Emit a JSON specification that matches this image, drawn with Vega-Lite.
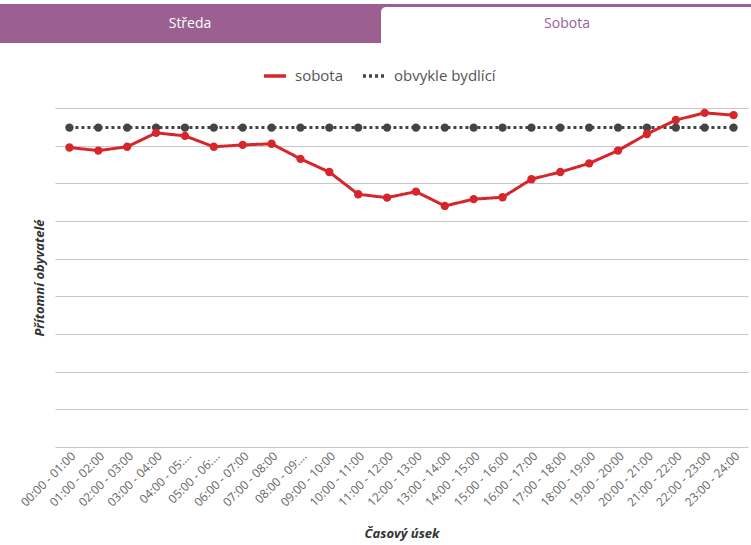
{
  "$schema": "https://vega.github.io/schema/vega-lite/v6.json",
  "padding": {"top": 4, "left": 0, "right": 0, "bottom": 0},
  "spacing": 20,
  "config": {
    "view": {"stroke": null},
    "font": "Open Sans"
  },
  "resolve": {
    "scale": {"color": "independent", "x": "independent", "y": "independent"},
    "legend": {"color": "independent", "strokeDash": "independent"}
  },
  "datasets": {
    "tabs": [{"tab": "Středa"}, {"tab": "Sobota"}],
    "pop": [
      {"slot": "00:00 - 01:00", "serie": "obvykle bydlící", "value": 8480},
      {"slot": "01:00 - 02:00", "serie": "obvykle bydlící", "value": 8480},
      {"slot": "02:00 - 03:00", "serie": "obvykle bydlící", "value": 8480},
      {"slot": "03:00 - 04:00", "serie": "obvykle bydlící", "value": 8480},
      {"slot": "04:00 - 05:00", "serie": "obvykle bydlící", "value": 8480},
      {"slot": "05:00 - 06:00", "serie": "obvykle bydlící", "value": 8480},
      {"slot": "06:00 - 07:00", "serie": "obvykle bydlící", "value": 8480},
      {"slot": "07:00 - 08:00", "serie": "obvykle bydlící", "value": 8480},
      {"slot": "08:00 - 09:00", "serie": "obvykle bydlící", "value": 8480},
      {"slot": "09:00 - 10:00", "serie": "obvykle bydlící", "value": 8480},
      {"slot": "10:00 - 11:00", "serie": "obvykle bydlící", "value": 8480},
      {"slot": "11:00 - 12:00", "serie": "obvykle bydlící", "value": 8480},
      {"slot": "12:00 - 13:00", "serie": "obvykle bydlící", "value": 8480},
      {"slot": "13:00 - 14:00", "serie": "obvykle bydlící", "value": 8480},
      {"slot": "14:00 - 15:00", "serie": "obvykle bydlící", "value": 8480},
      {"slot": "15:00 - 16:00", "serie": "obvykle bydlící", "value": 8480},
      {"slot": "16:00 - 17:00", "serie": "obvykle bydlící", "value": 8480},
      {"slot": "17:00 - 18:00", "serie": "obvykle bydlící", "value": 8480},
      {"slot": "18:00 - 19:00", "serie": "obvykle bydlící", "value": 8480},
      {"slot": "19:00 - 20:00", "serie": "obvykle bydlící", "value": 8480},
      {"slot": "20:00 - 21:00", "serie": "obvykle bydlící", "value": 8480},
      {"slot": "21:00 - 22:00", "serie": "obvykle bydlící", "value": 8480},
      {"slot": "22:00 - 23:00", "serie": "obvykle bydlící", "value": 8480},
      {"slot": "23:00 - 24:00", "serie": "obvykle bydlící", "value": 8480},
      {"slot": "00:00 - 01:00", "serie": "sobota", "value": 7950},
      {"slot": "01:00 - 02:00", "serie": "sobota", "value": 7870},
      {"slot": "02:00 - 03:00", "serie": "sobota", "value": 7970},
      {"slot": "03:00 - 04:00", "serie": "sobota", "value": 8340},
      {"slot": "04:00 - 05:00", "serie": "sobota", "value": 8260},
      {"slot": "05:00 - 06:00", "serie": "sobota", "value": 7970},
      {"slot": "06:00 - 07:00", "serie": "sobota", "value": 8020},
      {"slot": "07:00 - 08:00", "serie": "sobota", "value": 8050},
      {"slot": "08:00 - 09:00", "serie": "sobota", "value": 7650},
      {"slot": "09:00 - 10:00", "serie": "sobota", "value": 7300},
      {"slot": "10:00 - 11:00", "serie": "sobota", "value": 6710},
      {"slot": "11:00 - 12:00", "serie": "sobota", "value": 6620},
      {"slot": "12:00 - 13:00", "serie": "sobota", "value": 6780},
      {"slot": "13:00 - 14:00", "serie": "sobota", "value": 6400},
      {"slot": "14:00 - 15:00", "serie": "sobota", "value": 6580},
      {"slot": "15:00 - 16:00", "serie": "sobota", "value": 6630},
      {"slot": "16:00 - 17:00", "serie": "sobota", "value": 7110},
      {"slot": "17:00 - 18:00", "serie": "sobota", "value": 7300},
      {"slot": "18:00 - 19:00", "serie": "sobota", "value": 7530},
      {"slot": "19:00 - 20:00", "serie": "sobota", "value": 7870},
      {"slot": "20:00 - 21:00", "serie": "sobota", "value": 8310},
      {"slot": "21:00 - 22:00", "serie": "sobota", "value": 8680},
      {"slot": "22:00 - 23:00", "serie": "sobota", "value": 8870},
      {"slot": "23:00 - 24:00", "serie": "sobota", "value": 8810}
    ]
  },
  "vconcat": [
    {
      "width": 693,
      "height": 39,
      "data": {"name": "tabs"},
      "layer": [
        {
          "transform": [{"filter": "datum.tab === 'Středa'"}],
          "mark": {"type": "rect", "color": "#9b5f91"},
          "encoding": {
            "x": {"field": "tab", "type": "nominal", "axis": null,
                  "scale": {"domain": ["Středa"], "range": [-55, 696], "paddingInner": 0, "paddingOuter": 0}}
          }
        },
        {
          "transform": [{"filter": "datum.tab === 'Sobota'"}],
          "mark": {"type": "rect", "color": "#ffffff", "cornerRadiusTopLeft": 5},
          "encoding": {
            "x": {"field": "tab", "type": "nominal", "axis": null,
                  "scale": {"domain": ["Středa", "Sobota"], "range": [-44, 696], "paddingInner": 0, "paddingOuter": 0}},
            "y": {"datum": 36, "type": "quantitative", "axis": null, "scale": {"domain": [0, 39], "nice": false}},
            "y2": {"datum": 0}
          }
        },
        {
          "mark": {"type": "text", "fontSize": 14, "font": "Open Sans"},
          "encoding": {
            "x": {"field": "tab", "type": "nominal", "axis": null, "bandPosition": 0.5,
                  "scale": {"type": "band", "domain": ["Středa", "Sobota"], "range": [-53.5, 700.5], "paddingInner": 0, "paddingOuter": 0}},
            "text": {"field": "tab"},
            "color": {"field": "tab", "type": "nominal", "legend": null,
                      "scale": {"domain": ["Středa", "Sobota"], "range": ["#ffffff", "#9b5f91"]}}
          }
        }
      ],
      "resolve": {"scale": {"x": "independent", "y": "independent", "color": "independent"}}
    },
    {
      "width": 693,
      "height": 339,
      "data": {"name": "pop"},
      "encoding": {
        "x": {
          "field": "slot", "type": "ordinal", "sort": null, "title": "Časový úsek",
          "axis": {
            "labelAngle": -45, "labelFontSize": 12, "labelColor": "#666", "labelFont": "Open Sans",
            "ticks": false, "domain": false, "grid": false, "labelPadding": 3, "labelLimit": 300,
            "labelExpr": "(datum.value == '04:00 - 05:00' || datum.value == '05:00 - 06:00' || datum.value == '08:00 - 09:00') ? slice(datum.value, 0, 11) + '…' : datum.value",
            "titleFontSize": 13, "titleFontWeight": "bold", "titleFontStyle": "italic", "titleColor": "#333", "titlePadding": 19, "titleFont": "Open Sans"
          }
        },
        "y": {
          "field": "value", "type": "quantitative", "title": "Přítomní obyvatelé",
          "scale": {"domain": [0, 9000], "nice": false},
          "axis": {
            "labels": false, "ticks": false, "domain": false, "grid": true, "gridColor": "#c6c6c6",
            "values": [0, 1000, 2000, 3000, 4000, 5000, 6000, 7000, 8000, 9000],
            "minExtent": 0, "titlePadding": 9,
            "titleFontSize": 13, "titleFontWeight": "bold", "titleFontStyle": "italic", "titleColor": "#333", "titleFont": "Open Sans"
          }
        }
      },
      "layer": [
        {
          "mark": {"type": "line", "strokeWidth": 3},
          "encoding": {
            "color": {
              "field": "serie", "type": "nominal",
              "scale": {"domain": ["sobota", "obvykle bydlící"], "range": ["#d7262b", "#444444"]},
              "legend": {
                "orient": "none", "legendX": 207, "legendY": -45, "title": null, "direction": "horizontal", "symbolType": "stroke",
                "symbolSize": 484, "symbolStrokeWidth": 3.5, "labelFontSize": 15, "labelColor": "#555",
                "labelFont": "Open Sans", "columnPadding": 12, "labelOffset": 7
              }
            },
            "strokeDash": {
              "field": "serie", "type": "nominal",
              "scale": {"domain": ["sobota", "obvykle bydlící"], "range": [[1, 0], [3, 3]]},
              "legend": {
                "orient": "none", "legendX": 207, "legendY": -45, "title": null, "direction": "horizontal", "symbolType": "stroke",
                "symbolSize": 484, "symbolStrokeWidth": 3.5, "labelFontSize": 15, "labelColor": "#555",
                "labelFont": "Open Sans", "columnPadding": 12, "labelOffset": 7
              }
            }
          }
        },
        {
          "mark": {"type": "point", "filled": true, "size": 70, "opacity": 1, "strokeWidth": 0},
          "encoding": {
            "fill": {
              "field": "serie", "type": "nominal", "legend": null,
              "scale": {"domain": ["sobota", "obvykle bydlící"], "range": ["#d7262b", "#444444"]}
            }
          }
        }
      ]
    }
  ]
}
